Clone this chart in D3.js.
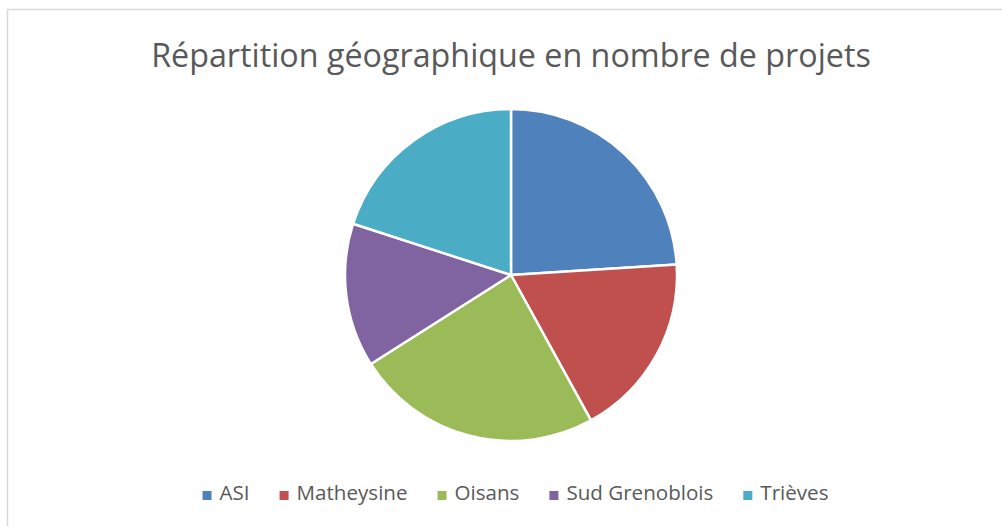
<!DOCTYPE html>
<html>
<head>
<meta charset="utf-8">
<script src="https://cdn.jsdelivr.net/npm/d3@7"></script>
<style>
  body { margin: 0; background: #fff; }
  svg { display: block; font-family: "Open Sans", sans-serif; }
</style>
</head>
<body>
<svg id="chart" width="1002" height="526"></svg>
<script>
const regions = ["ASI", "Matheysine", "Oisans", "Sud Grenoblois", "Trièves"];
const projects = [12, 9, 12, 7, 10];
const colours = ["#4F81BD", "#C0504D", "#9BBB59", "#8064A2", "#4BACC6"];
const title = "Répartition géographique en nombre de projets";

const svg = d3.select("#chart");

// chart frame (runs off the right and bottom edge like the screenshot)
svg.append("rect")
    .attr("x", 7.5).attr("y", 9.5)
    .attr("width", 1010).attr("height", 530)
    .attr("fill", "none").attr("stroke", "#d9d9d9").attr("stroke-width", 1.5);

// title, sized to the width seen in the picture
const t = svg.append("text")
    .attr("x", 511).attr("y", 67)
    .attr("text-anchor", "middle")
    .attr("fill", "#595959")
    .style("font-size", "30px")
    .text(title);
const tw = t.node().getComputedTextLength();
t.style("font-size", (30 * 720 / tw) + "px");

const data = regions.map((r, i) => ({region: r, value: projects[i]}));
const color = d3.scaleOrdinal().domain(regions).range(colours);

const pie = d3.pie().value(d => d.value).sort(null);
const arc = d3.arc().innerRadius(0).outerRadius(166);

svg.append("g")
    .attr("transform", "translate(511,275)")
    .selectAll("path")
    .data(pie(data)).enter().append("path")
    .attr("d", arc)
    .attr("fill", d => color(d.data.region))
    .attr("stroke", "#fff").attr("stroke-width", 2.5)
    .attr("stroke-linejoin", "round");

// legend, centred below the pie
const legend = svg.append("g");
let fs = 18;
const items = legend.selectAll("g").data(regions).enter().append("g");
items.append("rect")
    .attr("width", 9).attr("height", 9).attr("y", -9)
    .attr("fill", d => color(d));
items.append("text")
    .attr("x", 17).attr("y", 0)
    .attr("fill", "#595959")
    .style("font-size", fs + "px")
    .text(d => d);

// scale font so "Sud Grenoblois" spans about 147px
const sudW = items.filter(d => d === "Sud Grenoblois").select("text").node().getComputedTextLength();
fs = fs * 147 / sudW;
items.select("text").style("font-size", fs + "px");

let x = 0;
items.each(function() {
    const w = d3.select(this).select("text").node().getComputedTextLength();
    d3.select(this).attr("transform", `translate(${x},0)`);
    x += 17 + w + 30;
});
const total = x - 30;
legend.attr("transform", `translate(${515.5 - total / 2},500)`);
</script>
</body>
</html>
